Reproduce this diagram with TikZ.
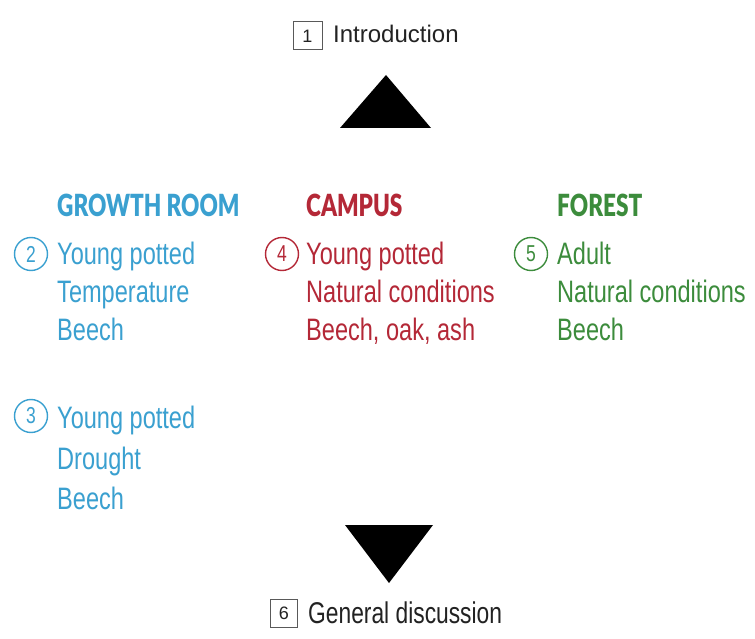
\documentclass[tikz,border=0pt]{standalone}
\usepackage{fontspec}
\setmainfont{Liberation Sans}
\newfontfamily\cond[FakeStretch=0.76]{Liberation Sans}
\newfontfamily\condhead[FakeStretch=0.74]{Lato Black}
\definecolor{gblue}{RGB}{58,160,208}
\definecolor{cred}{RGB}{180,40,55}
\definecolor{fgreen}{RGB}{60,140,60}
\definecolor{ink}{RGB}{34,34,34}
\tikzset{
  head/.style={anchor=base west, inner sep=0pt, font=\condhead\fontsize{30.5}{33}\selectfont},
  item/.style={anchor=base west, inner sep=0pt, font=\cond\fontsize{31}{33}\selectfont},
  num/.style={circle, draw, line width=1.4pt, minimum size=33pt, inner sep=0pt, font=\cond\fontsize{23}{25}\selectfont},
  numbox/.style={draw=gray!70!black, line width=1pt, inner sep=0pt, text=ink},
}
\begin{document}
\begin{tikzpicture}[x=1pt,y=-1pt]
\useasboundingbox[fill=white] (0,0) rectangle (755,639);
% Introduction
\node[numbox, minimum width=29pt, minimum height=28pt, font=\fontsize{18}{20}\selectfont] (b1) at (307.5,36) {1};
\node[anchor=base west, inner sep=0pt, text=ink, font=\fontsize{24}{26}\selectfont] (intro) at (333,43) {Introduction};
\fill[black] (386,75) -- (431,128) -- (340,128) -- cycle;
% Growth room
\node[head, text=gblue] (gr) at (57,217) {GROWTH ROOM};
\node[num, draw=gblue, text=gblue] (c2) at (31,254) {2};
\node[item, text=gblue] (g21) at (57,264) {Young potted};
\node[item, text=gblue] (g22) at (57,302) {Temperature};
\node[item, text=gblue] (g23) at (57,340) {Beech};
\node[num, draw=gblue, text=gblue] (c3) at (31,416) {3};
\node[item, text=gblue] (g31) at (57,428) {Young potted};
\node[item, text=gblue] (g32) at (57,469) {Drought};
\node[item, text=gblue] (g33) at (57,509) {Beech};
% Campus
\node[head, text=cred] (ca) at (306,217) {CAMPUS};
\node[num, draw=cred, text=cred] (c4) at (282,254) {4};
\node[item, text=cred] (c41) at (306,264) {Young potted};
\node[item, text=cred] (c42) at (306,302) {Natural conditions};
\node[item, text=cred] (c43) at (306,340) {Beech, oak, ash};
% Forest
\node[head, text=fgreen] (fo) at (557,217) {FOREST};
\node[num, draw=fgreen, text=fgreen] (c5) at (531,254) {5};
\node[item, text=fgreen] (f51) at (557,264) {Adult};
\node[item, text=fgreen] (f52) at (557,302) {Natural conditions};
\node[item, text=fgreen] (f53) at (557,340) {Beech};
% General discussion
\fill[black] (345,525) -- (433,525) -- (389,583) -- cycle;
\node[numbox, minimum width=27pt, minimum height=28pt, font=\fontsize{18}{20}\selectfont] (b6) at (284,613) {6};
\node[anchor=base west, inner sep=0pt, text=ink, font=\cond\fontsize{30}{32}\selectfont] (gd) at (308,623) {General discussion};
\end{tikzpicture}
\end{document}
